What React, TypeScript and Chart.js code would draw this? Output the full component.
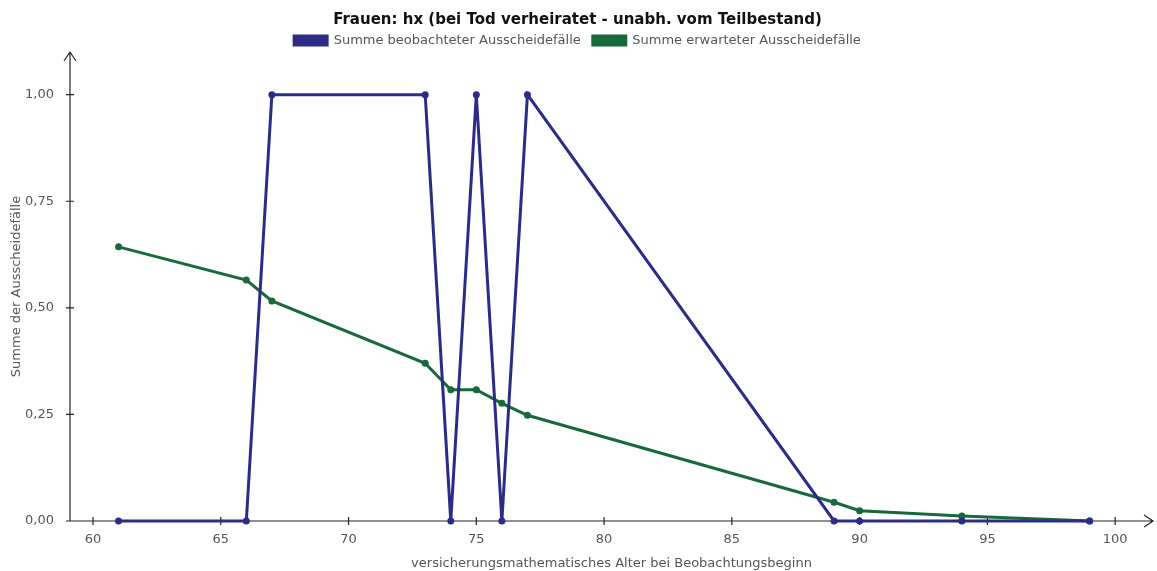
import { useEffect, useRef } from "react";
import { Chart, registerables } from "chart.js";

Chart.register(...registerables);

const ages = [61, 66, 67, 73, 74, 75, 76, 77, 89, 90, 94, 99];
const observed = [0, 0, 1, 1, 0, 1, 0, 1, 0, 0, 0, 0];
const expected = [0.643, 0.565, 0.516, 0.37, 0.308, 0.308, 0.276, 0.248, 0.044, 0.024, 0.012, 0.0];
const xTicks = [60, 65, 70, 75, 80, 85, 90, 95, 100];
const yTicks = [0, 0.25, 0.5, 0.75, 1];

const titleText = "Frauen: hx (bei Tod verheiratet - unabh. vom Teilbestand)";
const observedLabel = "Summe beobachteter Ausscheidefälle";
const expectedLabel = "Summe erwarteter Ausscheidefälle";
const xTitle = "versicherungsmathematisches Alter bei Beobachtungsbeginn";
const yTitle = "Summe der Ausscheidefälle";

const BLUE = "#2c2c86";
const GREEN = "#17683a";
const FONT = "'DejaVu Sans', sans-serif";

const axisPlugin = {
  id: "arrowAxes",
  beforeLayout(chart: any) {
    const lg = chart.legend;
    if (lg && !lg._fitPatched) {
      const orig = lg.fit.bind(lg);
      lg.fit = function () {
        orig();
        this.height = 30;
      };
      lg._fitPatched = true;
    }
  },
  beforeDatasetsDraw(chart: any) {
    const { ctx } = chart;
    const xs = chart.scales.x;
    const ys = chart.scales.y;
    const x0 = xs.left;
    const y0 = ys.getPixelForValue(0);
    ctx.save();
    ctx.strokeStyle = "#222";
    ctx.lineWidth = 1.2;
    ctx.beginPath();
    ctx.moveTo(x0, y0);
    ctx.lineTo(x0, ys.top);
    ctx.moveTo(x0, y0);
    ctx.lineTo(xs.right, y0);
    ctx.moveTo(x0 - 6, ys.top + 9);
    ctx.lineTo(x0, ys.top);
    ctx.lineTo(x0 + 6, ys.top + 9);
    ctx.moveTo(xs.right - 9, y0 - 6);
    ctx.lineTo(xs.right, y0);
    ctx.lineTo(xs.right - 9, y0 + 6);
    for (const v of yTicks) {
      const p = ys.getPixelForValue(v);
      ctx.moveTo(x0 - 4, p);
      ctx.lineTo(x0 + 4, p);
    }
    for (const v of xTicks) {
      const p = xs.getPixelForValue(v);
      ctx.moveTo(p, y0 - 4);
      ctx.lineTo(p, y0 + 4);
    }
    ctx.stroke();
    ctx.restore();
  },
};

export default function App() {
  const ref = useRef<HTMLCanvasElement>(null);
  useEffect(() => {
    if (!ref.current) return;
    Chart.defaults.font.family = FONT;
    const chart = new Chart(ref.current, {
      type: "line",
      data: {
        datasets: [
          {
            label: observedLabel,
            data: ages.map((a, i) => ({ x: a, y: observed[i] })),
            borderColor: BLUE,
            backgroundColor: BLUE,
            borderWidth: 3,
            pointRadius: 3.5,
            pointBackgroundColor: BLUE,
            pointBorderWidth: 0,
            clip: false,
          },
          {
            label: expectedLabel,
            data: ages.map((a, i) => ({ x: a, y: expected[i] })),
            borderColor: GREEN,
            backgroundColor: GREEN,
            borderWidth: 3,
            pointRadius: 3.5,
            pointBackgroundColor: GREEN,
            pointBorderWidth: 0,
            clip: false,
          },
        ],
      },
      options: {
        animation: false,
        responsive: true,
        maintainAspectRatio: false,
        layout: { padding: { left: 0, right: 2, top: 0, bottom: 0 } },
        plugins: {
          title: {
            display: true,
            text: titleText,
            color: "#111",
            font: { size: 15, weight: "bold", family: FONT },
            padding: { top: 11, bottom: -7 },
          },
          legend: {
            display: true,
            labels: {
              boxWidth: 33,
              boxHeight: 9,
              color: "#555",
              font: { size: 13, family: FONT },
              padding: 12,
            },
          },
          tooltip: { enabled: false },
        },
        scales: {
          x: {
            type: "linear",
            min: 59.1,
            max: 101.48,
            grid: { display: false },
            border: { display: false },
            afterBuildTicks: (axis: any) => {
              axis.ticks = xTicks.map((v) => ({ value: v }));
            },
            afterFit: (axis: any) => {
              axis.height = 50;
            },
            ticks: {
              color: "#555",
              font: { size: 13, family: FONT },
              padding: 3,
              maxRotation: 0,
              autoSkip: false,
            },
            title: {
              display: true,
              text: xTitle,
              color: "#555",
              font: { size: 13, family: FONT },
              padding: { top: 2, bottom: 0 },
            },
          },
          y: {
            type: "linear",
            min: 0,
            max: 1.1,
            grid: { display: false },
            border: { display: false },
            afterBuildTicks: (axis: any) => {
              axis.ticks = yTicks.map((v) => ({ value: v }));
            },
            afterFit: (axis: any) => {
              axis.width = 70;
            },
            ticks: {
              color: "#555",
              font: { size: 13, family: FONT },
              padding: 8,
              callback: (v: any) => Number(v).toFixed(2).replace(".", ","),
            },
            title: {
              display: true,
              text: yTitle,
              color: "#555",
              font: { size: 13, family: FONT },
              padding: { top: 9, bottom: 0 },
            },
          },
        },
      },
      plugins: [axisPlugin],
    });
    return () => chart.destroy();
  }, []);
  return (
    <div style={{ position: "fixed", left: 0, top: 0, width: 1157, height: 571, background: "#fff" }}>
      <canvas ref={ref} />
    </div>
  );
}
